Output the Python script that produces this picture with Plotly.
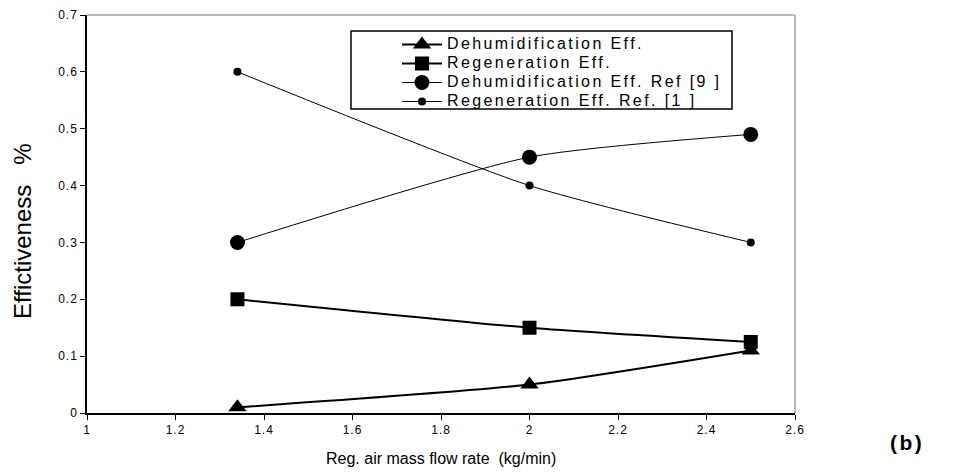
import plotly.graph_objects as go

# Regeneration air mass flow rate (kg/min)
flow_rate = [1.34, 2.0, 2.5]

# Effectiveness values
dehum_eff = [0.01, 0.05, 0.11]
regen_eff = [0.20, 0.15, 0.125]
dehum_eff_ref9 = [0.30, 0.45, 0.49]
regen_eff_ref1 = [0.60, 0.40, 0.30]

series_names = [
    "Dehumidification Eff.",
    "Regeneration Eff.",
    "Dehumidification Eff. Ref [9 ]",
    "Regeneration Eff. Ref. [1 ]",
]

x_ticks = [1, 1.2, 1.4, 1.6, 1.8, 2, 2.2, 2.4, 2.6]
y_ticks = [0, 0.1, 0.2, 0.3, 0.4, 0.5, 0.6, 0.7]

FONT = "Arial, Liberation Sans, sans-serif"

# plot-area geometry in pixels
L, R, T, B = 87, 795, 15, 413
W, H = 961, 473


def px_x(p):
    return (p - L) / (R - L)


def px_y(p):
    return (B - p) / (B - T)


def wide(text, size, spacing):
    return f'<span style="font-size:{size}px;letter-spacing:{spacing}px">{text}</span>'


fig = go.Figure()

styles = [
    (dehum_eff, dict(symbol="triangle-up", size=16), 2),
    (regen_eff, dict(symbol="square", size=14), 2),
    (dehum_eff_ref9, dict(symbol="circle", size=15), 1),
    (regen_eff_ref1, dict(symbol="circle", size=8), 1),
]
for name, (vals, marker, lw) in zip(series_names, styles):
    fig.add_trace(go.Scatter(
        x=flow_rate, y=vals, name=wide(name, 16, 2.4), mode="lines+markers",
        line=dict(color="black", width=lw, shape="spline", smoothing=0.6),
        marker=dict(color="black", line=dict(width=0), **marker),
    ))

axis_common = dict(
    showgrid=False, zeroline=False, showline=True, linecolor="black", linewidth=1.5,
    ticks="outside", ticklen=5, tickwidth=1, tickcolor="black",
    tickfont=dict(family=FONT, size=12, color="black"),
    automargin=False,
)

fig.update_xaxes(
    range=[1, 2.6], tickvals=x_ticks,
    ticktext=[wide(f"{v:g}", 12, 1) for v in x_ticks],
    **axis_common,
)
fig.update_yaxes(
    range=[0, 0.7], tickvals=y_ticks,
    ticktext=[wide(f"{v:g}", 12, 1) for v in y_ticks],
    **axis_common,
)

# axis titles
fig.add_annotation(text="Reg. air mass flow rate\u00a0\u00a0(kg/min)",
                   xref="paper", yref="paper", x=px_x(441), y=px_y(458),
                   xanchor="center", yanchor="middle", showarrow=False,
                   font=dict(family=FONT, size=16, color="black"))
fig.add_annotation(text="Effictiveness\u00a0\u00a0\u00a0%", textangle=-90,
                   xref="paper", yref="paper", x=px_x(22), y=px_y(231),
                   xanchor="center", yanchor="middle", showarrow=False,
                   font=dict(family=FONT, size=24, color="black"))

# grey frame on the top and right edges of the plot area
fig.add_shape(type="line", xref="paper", yref="paper", x0=0, x1=1, y0=1, y1=1,
              line=dict(color="#a0a0a0", width=1.5))
fig.add_shape(type="line", xref="paper", yref="paper", x0=1, x1=1, y0=0, y1=1,
              line=dict(color="#a0a0a0", width=1.5))

# legend frame
fig.add_shape(type="rect", xref="paper", yref="paper",
              x0=px_x(351), x1=px_x(732), y0=px_y(109), y1=px_y(31),
              line=dict(color="black", width=1.5), fillcolor="white", layer="below")

fig.add_annotation(text="<b>" + wide("(b)", 21, 2.5) + "</b>",
                   xref="paper", yref="paper",
                   x=px_x(907), y=px_y(442), xanchor="center", yanchor="middle",
                   showarrow=False,
                   font=dict(family=FONT, size=21, color="black"))

fig.update_layout(
    width=W, height=H,
    margin=dict(l=L, r=W - R, t=T, b=H - B, autoexpand=False),
    paper_bgcolor="white", plot_bgcolor="white",
    showlegend=True,
    legend=dict(
        x=px_x(397), y=px_y(30), xanchor="left", yanchor="top",
        bgcolor="rgba(0,0,0,0)", borderwidth=0,
        font=dict(family=FONT, size=12, color="black"),
        tracegroupgap=0, itemwidth=40,
    ),
)

fig.write_html("out.html", config={"displayModeBar": False})
